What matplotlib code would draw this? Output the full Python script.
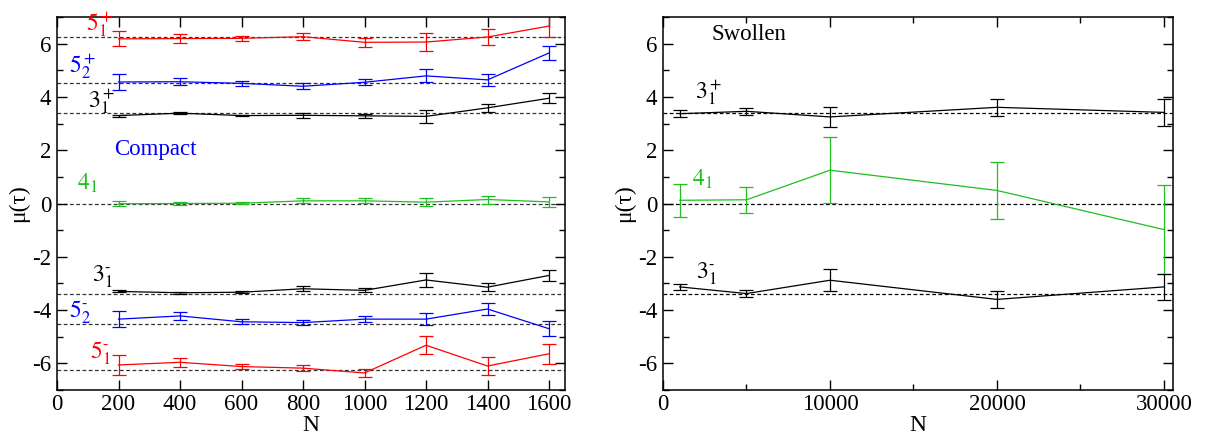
import matplotlib
matplotlib.use("Agg")
import matplotlib.pyplot as plt
from matplotlib.ticker import MultipleLocator

plt.rcParams['font.family'] = ['Liberation Serif', 'DejaVu Serif']
plt.rcParams['mathtext.fontset'] = 'stix'
plt.rcParams['axes.unicode_minus'] = False

# ---------------- Compact panel data ----------------
N_compact = [200, 400, 600, 800, 1000, 1200, 1400, 1600]

k51p = [6.18, 6.19, 6.20, 6.26, 6.05, 6.06, 6.25, 6.66]
k51p_err = [0.28, 0.17, 0.10, 0.14, 0.16, 0.33, 0.30, 0.40]
k52p = [4.56, 4.57, 4.51, 4.40, 4.55, 4.79, 4.64, 5.65]
k52p_err = [0.31, 0.13, 0.10, 0.11, 0.12, 0.24, 0.23, 0.27]
k31p = [3.30, 3.39, 3.30, 3.31, 3.29, 3.27, 3.59, 3.95]
k31p_err = [0.04, 0.04, 0.03, 0.09, 0.08, 0.24, 0.14, 0.19]
k41 = [-0.01, 0.00, 0.01, 0.10, 0.10, 0.05, 0.15, 0.06]
k41_err = [0.09, 0.06, 0.03, 0.09, 0.09, 0.16, 0.15, 0.20]
k31m = [-3.30, -3.35, -3.33, -3.20, -3.26, -2.87, -3.14, -2.70]
k31m_err = [0.04, 0.03, 0.03, 0.10, 0.07, 0.25, 0.14, 0.20]
k52m = [-4.34, -4.22, -4.44, -4.47, -4.34, -4.34, -3.96, -4.70]
k52m_err = [0.31, 0.14, 0.09, 0.10, 0.12, 0.23, 0.24, 0.28]
k51m = [-6.06, -5.96, -6.12, -6.18, -6.36, -5.32, -6.10, -5.64]
k51m_err = [0.36, 0.16, 0.11, 0.12, 0.15, 0.33, 0.32, 0.37]

ref_compact = [6.25, 4.53, 3.41, 0.0, -3.41, -4.53, -6.25]

# ---------------- Swollen panel data ----------------
N_swollen = [1000, 5000, 10000, 20000, 30000]
s31p = [3.37, 3.46, 3.25, 3.61, 3.42]
s31p_err = [0.14, 0.14, 0.39, 0.31, 0.51]
s41 = [0.12, 0.14, 1.25, 0.49, -0.98]
s41_err = [0.61, 0.48, 1.23, 1.07, 1.68]
s31m = [-3.13, -3.38, -2.88, -3.60, -3.13]
s31m_err = [0.12, 0.14, 0.42, 0.31, 0.50]

ref_swollen = [3.41, 0.0, -3.41]

RED = '#ff0000'
BLUE = '#0000ff'
GREEN = '#1fbf1f'
BLACK = '#000000'

W, H = 1210, 437
fig = plt.figure(figsize=(W / 100, H / 100), dpi=100)
ax1 = fig.add_axes([57 / W, 1 - 390 / H, (565 - 57) / W, (390 - 17) / H])
ax2 = fig.add_axes([663 / W, 1 - 390 / H, (1173 - 663) / W, (390 - 17) / H])

ebkw = dict(lw=0.9, capsize=5, capthick=0.9, elinewidth=0.9)


def style(ax):
    ax.set_ylim(-7, 7)
    ax.yaxis.set_major_locator(MultipleLocator(2))
    ax.yaxis.set_minor_locator(MultipleLocator(1))
    ax.tick_params(which='both', direction='in', top=True, right=True,
                   labelsize=16.5, width=1.0)
    ax.tick_params(which='major', length=7)
    ax.tick_params(which='minor', length=4)
    ax.tick_params(axis='x', pad=3)
    ax.tick_params(axis='y', pad=4)
    for s in ax.spines.values():
        s.set_linewidth(1.1)
    ax.set_xlabel('N', fontsize=17, labelpad=0)
    ax.set_ylabel('μ(τ)', fontsize=17, labelpad=2)


# Compact
for r in ref_compact:
    ax1.axhline(r, color='#333333', lw=0.9, ls=(0, (3, 2)), zorder=1)
for y, e, c in [(k51p, k51p_err, RED), (k52p, k52p_err, BLUE), (k31p, k31p_err, BLACK),
                (k41, k41_err, GREEN), (k31m, k31m_err, BLACK), (k52m, k52m_err, BLUE),
                (k51m, k51m_err, RED)]:
    ax1.errorbar(N_compact, y, yerr=e, color=c, **ebkw)
ax1.set_xlim(0, 1652)
ax1.xaxis.set_major_locator(MultipleLocator(200))
style(ax1)

tk = dict(fontsize=17, ha='left', va='baseline')
ax1.text(94, 6.52, r'$5_1^+$', color=RED, **tk)
ax1.text(39, 4.92, r'$5_2^+$', color=BLUE, **tk)
ax1.text(102, 3.63, r'$3_1^+$', color=BLACK, **tk)
ax1.text(186, 1.81, 'Compact', color=BLUE, fontsize=16.5, ha='left', va='baseline')
ax1.text(64, 0.52, r'$4_1$', color=GREEN, **tk)
ax1.text(113, -2.91, r'$3_1^{\text{-}}$', color=BLACK, **tk)
ax1.text(39, -4.26, r'$5_2^{\text{-}}$', color=BLUE, **tk)
ax1.text(107, -5.82, r'$5_1^{\text{-}}$', color=RED, **tk)

# Swollen
for r in ref_swollen:
    ax2.axhline(r, color='#000000', lw=0.9, ls=(0, (3, 2)), zorder=1)
for y, e, c in [(s31p, s31p_err, BLACK), (s41, s41_err, GREEN), (s31m, s31m_err, BLACK)]:
    ax2.errorbar(N_swollen, y, yerr=e, color=c, **ebkw)
ax2.set_xlim(0, 30540)
ax2.xaxis.set_major_locator(MultipleLocator(10000))
ax2.xaxis.set_minor_locator(MultipleLocator(5000))
style(ax2)

ax2.text(2930, 6.12, 'Swollen', color=BLACK, fontsize=16.5, ha='left', va='baseline')
ax2.text(1916, 3.94, r'$3_1^+$', color=BLACK, **tk)
ax2.text(1755, 0.65, r'$4_1$', color=GREEN, **tk)
ax2.text(1976, -2.81, r'$3_1^{\text{-}}$', color=BLACK, **tk)

fig.savefig('out.png', dpi=100)
